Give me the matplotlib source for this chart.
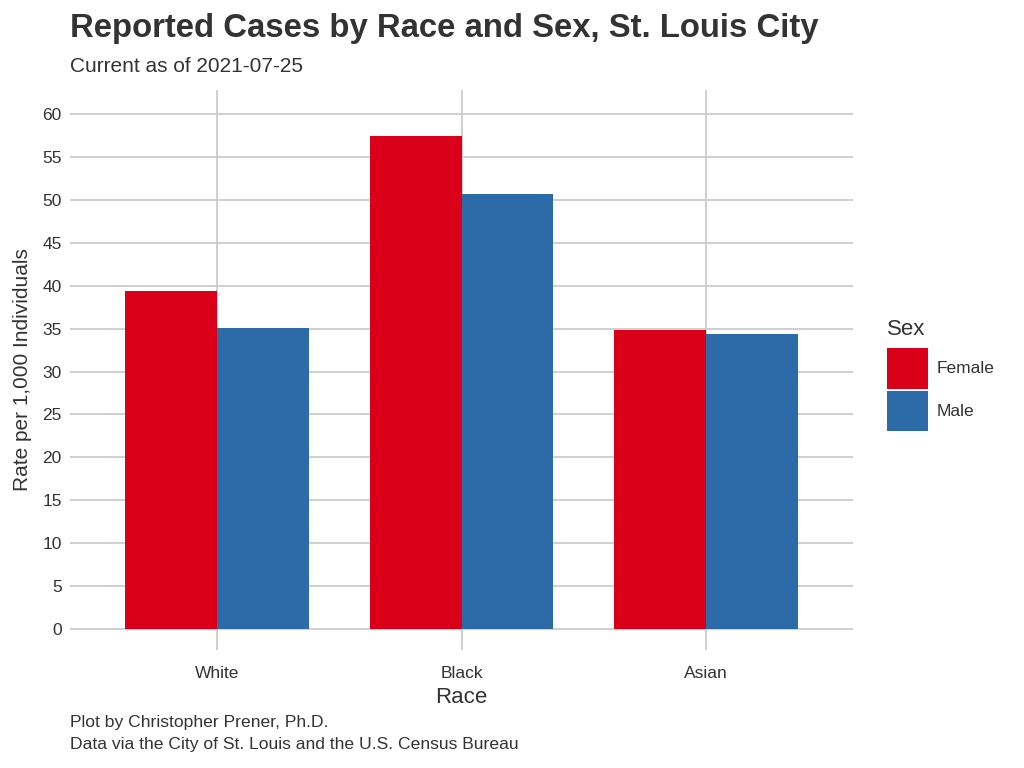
import matplotlib.pyplot as plt
import numpy as np

plt.rcParams['font.family'] = ['Liberation Sans', 'DejaVu Sans']

races = ['White', 'Black', 'Asian']
sexes = ['Female', 'Male']
female = [39.4, 57.4, 34.8]
male = [35.1, 50.7, 34.4]
colors = ['#DB0019', '#2C6AA8']

fig = plt.figure(figsize=(10.24, 7.68), dpi=100)
ax = fig.add_axes([70/1024, 118/768, 783/1024, 560/768])

x = np.arange(len(races))
w = 0.375
ax.bar(x - w/2, female, w, color=colors[0], label=sexes[0], zorder=2)
ax.bar(x + w/2, male, w, color=colors[1], label=sexes[1], zorder=2)

ax.set_xlim(-0.6, 2.6)
ax.set_ylim(-2.45, 62.8)
ax.set_yticks(np.arange(0, 61, 5))
ax.set_xticks(x)
ax.set_xticklabels(races)
ax.grid(True, color='#cccccc', linewidth=1.3, zorder=0)
ax.set_axisbelow(True)
for s in ax.spines.values():
    s.set_visible(False)
ax.tick_params(length=0, labelsize=12.5, labelcolor='#333333')
ax.tick_params(axis='x', pad=11.5)
ax.tick_params(axis='y', pad=6)

ax.set_xlabel('Race', fontsize=16, color='#333333', labelpad=4)
ax.set_ylabel('Rate per 1,000 Individuals', fontsize=15, color='#333333', labelpad=7)

fig.text(70/1024, 1 - 28/768, 'Reported Cases by Race and Sex, St. Louis City',
         fontsize=23.7, fontweight='bold', color='#333333', va='center')
fig.text(70/1024, 1 - 66/768, 'Current as of 2021-07-25',
         fontsize=15, color='#333333', va='center')
fig.text(70/1024, 1 - 722/768, 'Plot by Christopher Prener, Ph.D.',
         fontsize=12.6, color='#333333', va='center')
fig.text(70/1024, 1 - 744/768, 'Data via the City of St. Louis and the U.S. Census Bureau',
         fontsize=12.6, color='#333333', va='center')

leg = ax.legend(title='Sex', loc='center left', bbox_to_anchor=(871/1024, 1 - 375/768),
                bbox_transform=fig.transFigure, frameon=False, fontsize=12.5,
                title_fontsize=16, handlelength=2.36, handleheight=3.25,
                labelspacing=0.1, handletextpad=0.5, alignment='left')
leg._legend_box.sep = 6  # a bit more room under the legend title
for t in leg.get_texts():
    t.set_color('#333333')
leg.get_title().set_color('#333333')

fig.savefig('out.png', dpi=100)
